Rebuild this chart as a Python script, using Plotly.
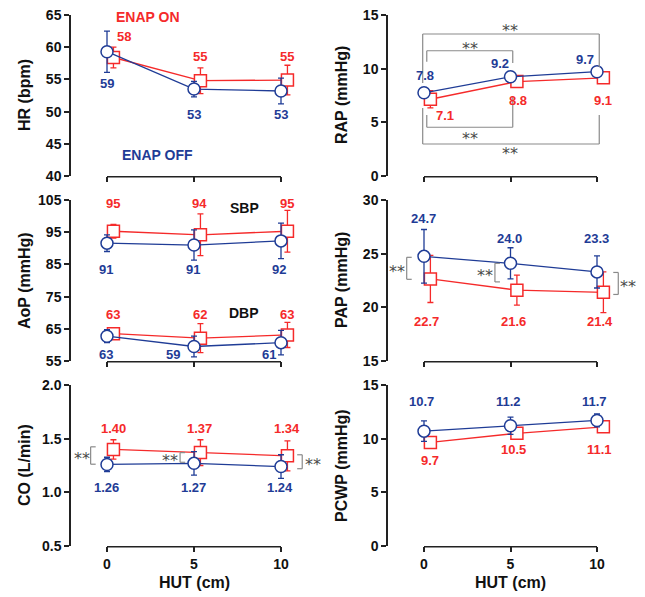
import plotly.graph_objects as go

# ---------------- data ----------------
hut_cm = [0, 5, 10]
x_ticks = [0, 5, 10]

hr_off = [59.3, 53.5, 53.2]
hr_off_sd = [3.2, 1.2, 2.0]
hr_on = [58.4, 54.8, 54.9]
hr_on_sd = [1.6, 2.0, 2.3]
hr_off_lbl = ["59", "53", "53"]
hr_on_lbl = ["58", "55", "55"]

rap_off = [7.75, 9.24, 9.72]
rap_off_sd = [0.3, 0.3, 0.3]
rap_on = [7.15, 8.8, 9.15]
rap_on_sd = [0.8, 0.5, 0.3]
rap_off_lbl = ["7.8", "9.2", "9.7"]
rap_on_lbl = ["7.1", "8.8", "9.1"]

sbp_off = [91.6, 91.0, 92.3]
sbp_off_sd = [2.6, 4.7, 5.5]
sbp_on = [95.3, 94.2, 95.3]
sbp_on_sd = [2.1, 6.5, 6.5]
sbp_off_lbl = ["91", "91", "92"]
sbp_on_lbl = ["95", "94", "95"]

dbp_off = [62.7, 59.5, 60.7]
dbp_off_sd = [2.0, 3.2, 3.8]
dbp_on = [63.5, 62.1, 63.1]
dbp_on_sd = [1.8, 4.5, 3.9]
dbp_off_lbl = ["63", "59", "61"]
dbp_on_lbl = ["63", "62", "63"]

pap_off = [24.75, 24.1, 23.3]
pap_off_sd = [2.5, 1.45, 1.5]
pap_on = [22.65, 21.6, 21.4]
pap_on_sd = [2.2, 1.4, 1.9]
pap_off_lbl = ["24.7", "24.0", "23.3"]
pap_on_lbl = ["22.7", "21.6", "21.4"]

co_off = [1.26, 1.27, 1.24]
co_off_sd = [0.067, 0.11, 0.11]
co_on = [1.40, 1.37, 1.34]
co_on_sd = [0.09, 0.12, 0.14]
co_off_lbl = ["1.26", "1.27", "1.24"]
co_on_lbl = ["1.40", "1.37", "1.34"]

pcwp_off = [10.7, 11.2, 11.7]
pcwp_off_sd = [0.95, 0.8, 0.6]
pcwp_on = [9.65, 10.5, 11.1]
pcwp_on_sd = [0.4, 0.4, 0.4]
pcwp_off_lbl = ["10.7", "11.2", "11.7"]
pcwp_on_lbl = ["9.7", "10.5", "11.1"]

# ---------------- style ----------------
BLUE = "#1f3c96"
RED = "#f52a2a"
AXC = "#222222"
GRAY = "#8a8a8a"
STAR = "#4a4a4a"
FONT = "Liberation Sans, Arial, sans-serif"
ON_SHIFT = 0.37
OFF = 8            # page (body) offset of the figure in the browser
W, H = 637, 589


def fx(p):
    return (p - OFF) / W


def fy(p):
    return 1 - (p - OFF) / H


fig = go.Figure()


def add_pair(n, off, off_sd, on, on_sd):
    xa = "x" if n == 1 else f"x{n}"
    ya = "y" if n == 1 else f"y{n}"
    fig.add_trace(go.Scatter(
        x=[v + ON_SHIFT for v in hut_cm], y=on, xaxis=xa, yaxis=ya,
        mode="lines+markers", showlegend=False, cliponaxis=False,
        line=dict(color=RED, width=1.3),
        marker=dict(symbol="square", size=12, color="white",
                    line=dict(color=RED, width=1.5)),
        error_y=dict(type="data", array=on_sd, color=RED, thickness=1.3, width=3)))
    fig.add_trace(go.Scatter(
        x=hut_cm, y=off, xaxis=xa, yaxis=ya,
        mode="lines+markers", showlegend=False, cliponaxis=False,
        line=dict(color=BLUE, width=1.3),
        marker=dict(symbol="circle", size=12, color="white",
                    line=dict(color=BLUE, width=1.5)),
        error_y=dict(type="data", array=off_sd, color=BLUE, thickness=1.3, width=3)))


add_pair(1, hr_off, hr_off_sd, hr_on, hr_on_sd)
add_pair(2, rap_off, rap_off_sd, rap_on, rap_on_sd)
add_pair(3, sbp_off, sbp_off_sd, sbp_on, sbp_on_sd)
add_pair(3, dbp_off, dbp_off_sd, dbp_on, dbp_on_sd)
add_pair(4, pap_off, pap_off_sd, pap_on, pap_on_sd)
add_pair(5, co_off, co_off_sd, co_on, co_on_sd)
add_pair(6, pcwp_off, pcwp_off_sd, pcwp_on, pcwp_on_sd)

# ---------------- axes ----------------
left_dom = [fx(71), fx(325)]
right_dom = [fx(388), fx(640)]
rows = [[fy(176), fy(15)], [fy(361), fy(200)], [fy(546), fy(385)]]
left_rng = [-36 / 17.4, (325 - 107) / 17.4]
right_rng = [-36 / 17.3, (640 - 424) / 17.3]

yspecs = {
    1: dict(range=[40, 65], tickvals=[40, 45, 50, 55, 60, 65]),
    2: dict(range=[0, 15], tickvals=[0, 5, 10, 15]),
    3: dict(range=[55, 105], tickvals=[55, 65, 75, 85, 95, 105]),
    4: dict(range=[15, 30], tickvals=[15, 20, 25, 30]),
    5: dict(range=[0.5, 2.0], tickvals=[0.5, 1.0, 1.5, 2.0], tickformat=".1f"),
    6: dict(range=[0, 15], tickvals=[0, 5, 10, 15]),
}
tickfont = dict(family=FONT, size=14, color="#111111", weight="bold")

layout_axes = {}
for n in range(1, 7):
    col = 0 if n % 2 == 1 else 1
    row = (n - 1) // 2
    xk = "xaxis" if n == 1 else f"xaxis{n}"
    yk = "yaxis" if n == 1 else f"yaxis{n}"
    ya = "y" if n == 1 else f"y{n}"
    xa = "x" if n == 1 else f"x{n}"
    layout_axes[xk] = dict(
        domain=left_dom if col == 0 else right_dom,
        range=left_rng if col == 0 else right_rng,
        anchor=ya, tickvals=x_ticks, ticks="outside", ticklen=5,
        tickwidth=1.5, tickcolor=AXC, showline=False, showgrid=False,
        zeroline=False, showticklabels=(row == 2), tickfont=tickfont,
        fixedrange=True, automargin=False, ticklabeloverflow="allow")
    layout_axes[yk] = dict(
        domain=rows[row], anchor=xa, ticks="outside", ticklen=5,
        tickwidth=1.5, tickcolor=AXC, showline=True, linewidth=1.5,
        linecolor=AXC, showgrid=False, zeroline=False, tickfont=tickfont,
        fixedrange=True, automargin=False, ticklabeloverflow="allow",
        **yspecs[n])

fig.update_layout(**layout_axes)

shapes = []
annotations = []

# x-axis lines spanning only 0..10
for n in range(1, 7):
    xa = "x" if n == 1 else f"x{n}"
    ya = "y" if n == 1 else f"y{n}"
    shapes.append(dict(type="line", xref=xa, yref=f"{ya} domain", x0=0, x1=10,
                       y0=-0.004, y1=-0.004, line=dict(color=AXC, width=1.5)))


def lbl(n, xs, ys, texts, color, size=13):
    xa = "x" if n == 1 else f"x{n}"
    ya = "y" if n == 1 else f"y{n}"
    for xx, yy, t in zip(xs, ys, texts):
        annotations.append(dict(x=xx, y=yy, xref=xa, yref=ya, text=f"<b>{t}</b>",
                                showarrow=False, font=dict(family=FONT, size=size, color=color),
                                xanchor="center", yanchor="middle"))


# value labels
lbl(1, [0.98, 5.34, 10.34], [61.6, 58.6, 58.6], hr_on_lbl, RED)
lbl(1, [0.0, 5.0, 10.0], [54.3, 49.6, 49.6], hr_off_lbl, BLUE)
lbl(1, [2.36], [64.7], ["ENAP ON"], RED, 14)
lbl(1, [2.93], [43.3], ["ENAP OFF"], BLUE, 14)

lbl(2, [0.06, 4.39, 9.31], [9.35, 10.5, 10.87], rap_off_lbl, BLUE)
lbl(2, [1.21, 5.45, 10.36], [5.62, 7.08, 7.08], rap_on_lbl, RED)

lbl(3, [0.33, 5.34, 10.36], [104.0] * 3, sbp_on_lbl, RED)
lbl(3, [-0.06, 4.92, 9.9], [83.3] * 3, sbp_off_lbl, BLUE)
lbl(3, [0.33, 5.34, 10.36], [69.3] * 3, dbp_on_lbl, RED)
lbl(3, [-0.06, 3.81, 9.33], [57.1] * 3, dbp_off_lbl, BLUE)
lbl(3, [7.89], [102.4], ["SBP"], "#111111", 14)
lbl(3, [7.89], [69.8], ["DBP"], "#111111", 14)

lbl(4, [-0.04, 4.97, 9.98], [28.29, 26.43, 26.43], pap_off_lbl, BLUE)
lbl(4, [0.15, 5.16, 10.17], [18.66] * 3, pap_on_lbl, RED)

lbl(5, [0.36, 5.34, 10.33], [1.596] * 3, co_on_lbl, RED)
lbl(5, [-0.02, 4.96, 9.94], [1.047] * 3, co_off_lbl, BLUE)

lbl(6, [-0.13, 4.87, 9.88], [13.45] * 3, pcwp_off_lbl, BLUE)
lbl(6, [0.35, 5.2, 10.17], [8.01, 9.0, 9.0], pcwp_on_lbl, RED)


def stars(n, x, y):
    xa = "x" if n == 1 else f"x{n}"
    ya = "y" if n == 1 else f"y{n}"
    annotations.append(dict(x=x, y=y, xref=xa, yref=ya, text="**", showarrow=False,
                            font=dict(family="DejaVu Sans", size=16, color=STAR),
                            xanchor="center", yanchor="middle", yshift=-3))


def seg(n, x0, y0, x1, y1):
    xa = "x" if n == 1 else f"x{n}"
    ya = "y" if n == 1 else f"y{n}"
    shapes.append(dict(type="line", xref=xa, yref=ya, x0=x0, y0=y0, x1=x1, y1=y1,
                       line=dict(color=GRAY, width=1.2)))


def vbracket(n, x, ytop, ybot, tick):
    seg(n, x, ytop, x, ybot)
    seg(n, x, ytop, x + tick, ytop)
    seg(n, x, ybot, x + tick, ybot)


# RAP comparison brackets
seg(2, -0.075, 13.23, 10.13, 13.23)
seg(2, -0.075, 13.23, -0.075, 8.66)
seg(2, 10.13, 13.23, 10.13, 10.16)
stars(2, 4.97, 13.85)
seg(2, 0.16, 11.67, 5.13, 11.67)
seg(2, 0.16, 11.67, 0.16, 10.65)
seg(2, 5.13, 11.67, 5.13, 10.53)
stars(2, 2.66, 12.2)
seg(2, 0.16, 4.54, 5.13, 4.54)
seg(2, 0.16, 4.54, 0.16, 5.68)
seg(2, 5.13, 4.54, 5.13, 7.39)
stars(2, 2.66, 3.82)
seg(2, -0.075, 2.98, 10.13, 2.98)
seg(2, -0.075, 2.98, -0.075, 6.34)
seg(2, 10.13, 2.98, 10.13, 5.68)
stars(2, 4.97, 2.36)

# PAP ENAP on/off brackets
vbracket(4, -1.0, 24.66, 22.61, 0.29)
stars(4, -1.58, 23.65)
vbracket(4, 4.1, 24.1, 22.37, 0.29)
stars(4, 3.53, 23.25)
vbracket(4, 11.23, 23.25, 21.2, -0.29)
stars(4, 11.82, 22.2)

# CO ENAP on/off brackets
vbracket(5, -0.94, 1.424, 1.262, 0.29)
stars(5, -1.45, 1.34)
vbracket(5, 4.2, 1.37, 1.28, 0.29)
stars(5, 3.62, 1.32)
vbracket(5, 11.22, 1.35, 1.22, -0.29)
stars(5, 11.85, 1.285)

# axis titles
ytitles = {1: "HR (bpm)", 2: "RAP (mmHg)", 3: "AoP (mmHg)",
           4: "PAP (mmHg)", 5: "CO (L/min)", 6: "PCWP (mmHg)"}
for n, t in ytitles.items():
    ya = "y" if n == 1 else f"y{n}"
    xp = fx(24.5) if n % 2 == 1 else fx(341.5)
    annotations.append(dict(x=xp, y=0.5, xref="paper", yref=f"{ya} domain",
                            text=f"<b>{t}</b>", textangle=-90, showarrow=False,
                            font=dict(family=FONT, size=16, color="#111111"),
                            xanchor="center", yanchor="middle"))
for n in (5, 6):
    annotations.append(dict(x=5, y=fy(582), xref=f"x{n}", yref="paper",
                            text="<b>HUT (cm)</b>", showarrow=False,
                            font=dict(family=FONT, size=16, color="#111111"),
                            xanchor="center", yanchor="middle"))

fig.update_layout(
    width=W, height=H, margin=dict(l=0, r=0, t=0, b=0, autoexpand=False),
    paper_bgcolor="white", plot_bgcolor="white",
    shapes=shapes, annotations=annotations, showlegend=False,
    font=dict(family=FONT),
)

fig.write_html("out.html")
